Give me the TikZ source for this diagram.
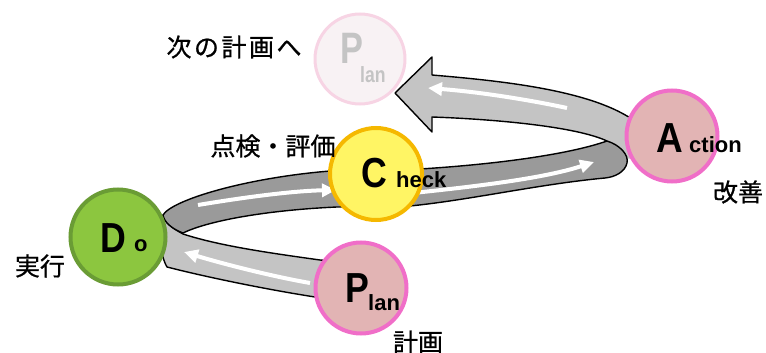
\documentclass[tikz,border=0pt]{standalone}
\usepackage{fontspec}
\usepackage{graphicx}
\usetikzlibrary{arrows.meta}
\newfontfamily\jpfont[FakeBold=0.8]{Noto Sans CJK JP}
\newfontfamily\latfont{Liberation Sans}
\definecolor{banddark}{HTML}{9A9A9A}
\definecolor{bandlight}{HTML}{C4C4C4}
\definecolor{pinkfill}{HTML}{E2B4B4}
\definecolor{pinkring}{HTML}{F06EC8}
\definecolor{dofill}{HTML}{8CC63F}
\definecolor{doring}{HTML}{6A9C35}
\definecolor{chfill}{HTML}{FFF564}
\definecolor{chring}{HTML}{F5B800}
\definecolor{ghfill}{HTML}{F8F2F4}
\definecolor{ghring}{HTML}{F7D4E4}
\definecolor{ghtext}{HTML}{C4C4C4}
\begin{document}
\begin{tikzpicture}[x=1pt,y=-1pt,
  edge/.style={draw=black, line width=1.4pt, line join=round},
  warrow/.style={draw=white, line width=4pt, -{Triangle[length=14pt,width=13pt]}},
  ball/.style={circle, line width=4pt, inner sep=0pt},
  pinkball/.style={ball, draw=pinkring, fill=pinkfill, minimum size=91pt},
  jp/.style={font=\jpfont\fontsize{25}{25}\selectfont, inner sep=0pt},
  capl/.style={font=\latfont\bfseries\fontsize{42}{42}\selectfont, inner sep=0pt, anchor=base west},
  lowl/.style={font=\latfont\bfseries\fontsize{22}{22}\selectfont, inner sep=0pt, anchor=base west}]
\useasboundingbox (0,0) rectangle (766,353);

% ghost circle (next plan)
\node[ball, draw=ghring, fill=ghfill, line width=3pt, minimum size=90pt] (ghost) at (360,59) {};
\node[capl, text=ghtext, font=\latfont\bfseries\fontsize{44}{44}\selectfont] (ghp) at (340,64) {\scalebox{0.78}[1]{P}};
\node[lowl, text=ghtext] (ghl) at (360,82) {\scalebox{0.8}[1]{lan}};

% lower front band (Plan -> Do)
\filldraw[edge, fill=bandlight] (345,262) -- (320,260) .. controls (270,253) and (220,246) .. (183,234)
  .. controls (172,228) and (164,222) .. (163,215)
  .. controls (158,232) and (160,255) .. (167,267)
  .. controls (210,278) and (270,290) .. (315,297) -- (345,300) -- cycle;

% top band with big arrow (Action -> next plan)
\fill[bandlight] (395,93) -- (432,57) -- (432,75) .. controls (490,80) and (580,88) .. (627,116)
  -- (660,118) -- (660,160) -- (618,158) -- (607,141)
  .. controls (575,126) and (490,119) .. (432,117) -- (432,132) -- cycle;
\draw[edge] (640,123) -- (627,116) .. controls (580,88) and (490,80) .. (432,75) -- (432,57) -- (395,93)
  -- (432,132) -- (432,117) .. controls (490,119) and (575,126) .. (607,141);

% back dark band (Do -> Check -> Action)
\filldraw[edge, fill=banddark] (163,215) .. controls (172,200) and (245,178) .. (330,171) -- (420,169)
  .. controls (500,164) and (570,154) .. (607,141)
  .. controls (620,145) and (629,155) .. (627,163)
  .. controls (625,172) and (615,177) .. (605,178)
  .. controls (540,184) and (470,200) .. (410,206) -- (337,207)
  .. controls (270,210) and (210,220) .. (183,233)
  .. controls (172,229) and (164,222) .. cycle;

% white arrows on the band
\draw[warrow] (310,283) .. controls (270,276) and (220,263) .. (184,252);
\draw[warrow] (198,205) .. controls (240,198) and (290,191) .. (336,190);
\draw[warrow] (413,193) .. controls (480,186) and (545,178) .. (594,162);
\draw[warrow] (567,108) .. controls (530,100) and (480,92) .. (428,88);

% balls
\node[ball, draw=chring, fill=chfill, minimum size=92pt] (check) at (376,174) {};
\node[pinkball] (action) at (672,136) {};
\node[ball, draw=doring, fill=dofill, minimum size=95pt] (do) at (118,237) {};
\node[pinkball] (plan) at (361,288) {};

% letters
\node[capl] (pP) at (345,302) {\scalebox{0.85}[1]{P}};
\node[lowl] (pl) at (368,310) {lan};
\node[capl] (cC) at (361,187) {\scalebox{0.85}[1]{C}};
\node[lowl] (ch) at (396,187) {heck};
\node[capl] (aA) at (656,152) {\scalebox{0.88}[1]{A}};
\node[lowl] (ac) at (689,152) {ction};
\node[capl] (dD) at (100,252) {\scalebox{0.85}[1]{D}};
\node[lowl] (dob) at (134,251) {o};

% Japanese labels
\node[jp, font=\jpfont\fontsize{25}{25}\selectfont\addfontfeatures{LetterSpace=10}] (next) at (234,47) {次の計画へ};
\node[jp] (chk) at (273,146) {点検・評価};
\node[jp] (kai) at (738,192) {改善};
\node[jp] (jik) at (40,266) {実行};
\node[jp] (kei) at (418,342) {計画};
\end{tikzpicture}
\end{document}
